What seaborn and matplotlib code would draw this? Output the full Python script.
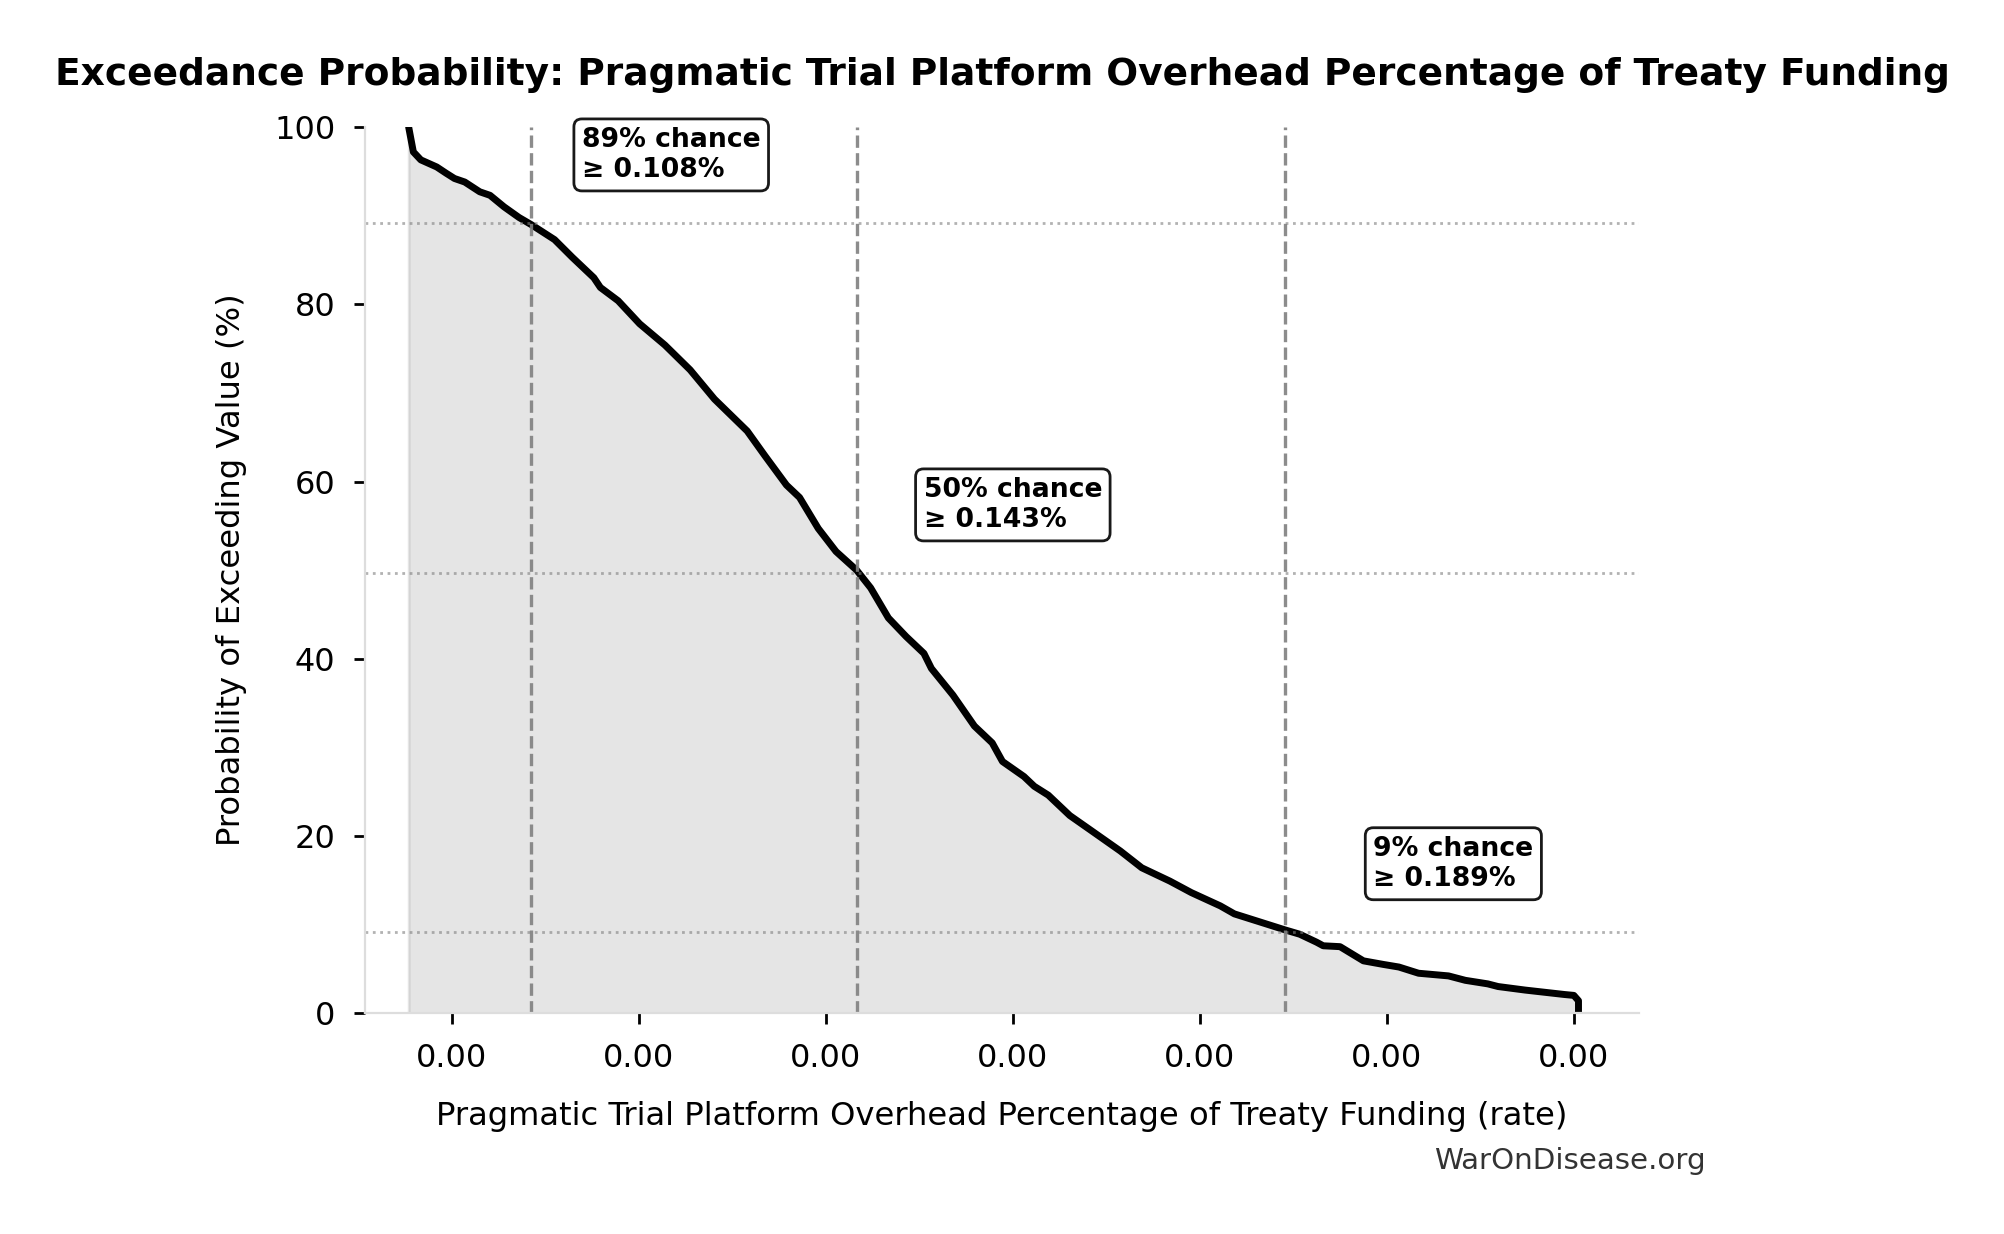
import numpy as np
import pandas as pd
import seaborn as sns
import matplotlib.pyplot as plt
from matplotlib.ticker import FormatStrFormatter

# Exceedance curve (rate as a fraction, probability in %)
rate = [0.000954, 0.000959, 0.000967, 0.000984, 0.000994, 0.001003, 0.001014,
        0.001030, 0.001041, 0.001056, 0.001072, 0.001085, 0.001110, 0.001129,
        0.001152, 0.001159, 0.001178, 0.001201, 0.001228, 0.001255, 0.001281,
        0.001316, 0.001335, 0.001358, 0.001372, 0.001392, 0.001411, 0.001433,
        0.001448, 0.001467, 0.001486, 0.001505, 0.001513, 0.001536, 0.001559,
        0.001578, 0.001589, 0.001612, 0.001623, 0.001638, 0.001661, 0.001684,
        0.001715, 0.001738, 0.001768, 0.001791, 0.001822, 0.001837, 0.001864,
        0.001891, 0.001907, 0.001925, 0.001932, 0.001950, 0.001975, 0.001996,
        0.002013, 0.002034, 0.002066, 0.002084, 0.002108, 0.002119, 0.002148,
        0.002190, 0.002200, 0.002205, 0.002205]
exceed_pct = [100.0, 97.2, 96.3, 95.5, 94.8, 94.2, 93.8,
              92.7, 92.3, 91.0, 89.8, 89.0, 87.3, 85.3,
              83.0, 81.9, 80.4, 77.8, 75.4, 72.6, 69.3,
              65.7, 62.9, 59.6, 58.2, 54.7, 52.1, 50.0,
              48.0, 44.6, 42.5, 40.6, 38.9, 35.9, 32.4,
              30.5, 28.4, 26.7, 25.6, 24.6, 22.3, 20.6,
              18.3, 16.4, 14.9, 13.6, 12.1, 11.2, 10.3,
              9.4, 8.9, 8.0, 7.6, 7.5, 5.9, 5.5,
              5.2, 4.5, 4.2, 3.7, 3.3, 3.0, 2.6,
              2.1, 2.0, 1.4, 0.1]

# marked percentiles
marker_prob = [89.2, 49.7, 9.2]
marker_pct_text = ['89%', '50%', '9%']
marker_rate = [0.001085, 0.001433, 0.001891]
marker_label = ['0.108%', '0.143%', '0.189%']

df = pd.DataFrame({'rate': rate, 'prob': exceed_pct})

sns.set_style('ticks')
plt.rcParams['font.family'] = ['DejaVu Sans']
plt.rcParams['text.color'] = 'black'
plt.rcParams['axes.labelcolor'] = 'black'
plt.rcParams['xtick.color'] = 'black'
plt.rcParams['ytick.color'] = 'black'

fig, ax = plt.subplots(figsize=(10.02, 6.17), dpi=200)
fig.subplots_adjust(left=0.182, right=0.818, bottom=0.179, top=0.897)

ax.fill_between(df['rate'], df['prob'], color='gray', alpha=0.2)
sns.lineplot(data=df, x='rate', y='prob', color='black', linewidth=2.5,
             estimator=None, sort=False, ax=ax)

for p, pt, r, lab in zip(marker_prob, marker_pct_text, marker_rate, marker_label):
    ax.axvline(r, color='gray', linestyle='--', linewidth=1.2, alpha=0.9)
    ax.axhline(p, color='gray', linestyle=':', linewidth=1, alpha=0.6)
    ax.text(r * 1.05, p + 4.5, f'{pt} chance\n≥ {lab}', fontsize=9.6,
            fontweight='bold', va='bottom', ha='left',
            bbox=dict(boxstyle='round,pad=0.3', facecolor='white',
                      edgecolor='black', alpha=0.9))

ax.set_xlim(0.000907, 0.002270)
ax.set_ylim(0, 100)
ax.xaxis.set_major_formatter(FormatStrFormatter('%.2f'))
ax.tick_params(axis='both', labelsize=11.5, length=4, width=1)
ax.tick_params(axis='x', pad=6.8)
ax.tick_params(axis='y', pad=6.5)
ax.set_xlabel('Pragmatic Trial Platform Overhead Percentage of Treaty Funding (rate)',
              fontsize=11.6, labelpad=9.6)
ax.set_ylabel('Probability of Exceeding Value (%)', fontsize=11.6, labelpad=10)
ax.set_title('Exceedance Probability: Pragmatic Trial Platform Overhead Percentage of Treaty Funding',
             fontsize=13.5, fontweight='bold', pad=15)

sns.despine(ax=ax)
for s in ['left', 'bottom']:
    ax.spines[s].set_color('#dddddd')

fig.text(0.851, 0.059, 'WarOnDisease.org', fontsize=10.6, color='#333333',
         ha='right', va='center')

fig.savefig('out.png', dpi=200)
